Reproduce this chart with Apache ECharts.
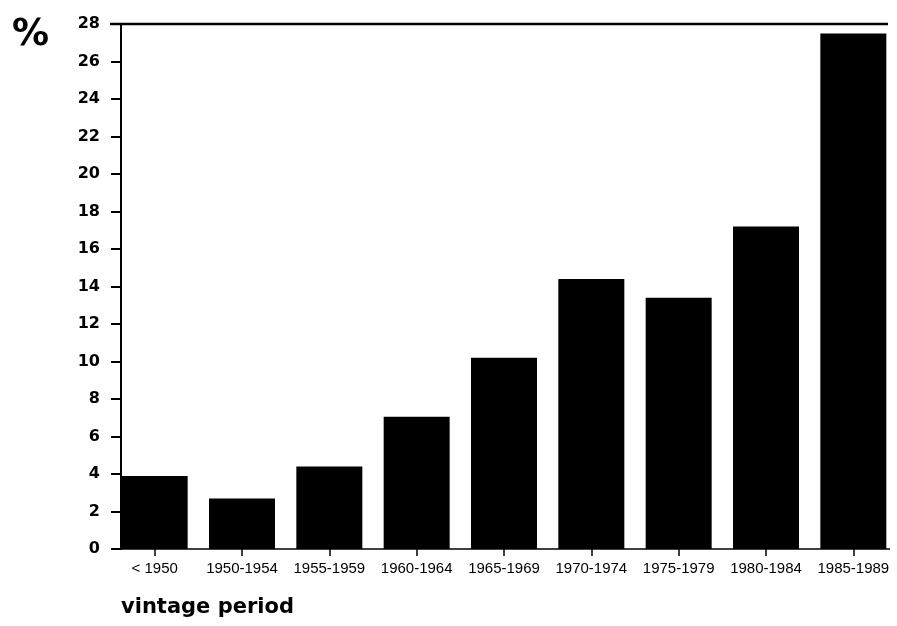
<!DOCTYPE html>
<html>
<head>
<meta charset="utf-8">
<script src="https://cdn.jsdelivr.net/npm/echarts@6/dist/echarts.min.js"></script>
<style>html,body{margin:0;padding:0;background:#fff}#c{width:897px;height:626px}</style>
</head>
<body>
<div id="c"></div>
<script>
var categories = ['< 1950','1950-1954','1955-1959','1960-1964','1965-1969','1970-1974','1975-1979','1980-1984','1985-1989'];
var values = [3.9, 2.7, 4.4, 7.05, 10.2, 14.4, 13.4, 17.2, 27.5];
var yTicks = [0,2,4,6,8,10,12,14,16,18,20,22,24,26,28];

var chart = echarts.init(document.getElementById('c'), null, {renderer:'canvas'});
var option = {
  animation: false,
  backgroundColor: '#fff',
  grid: {left: 111, right: -2, top: 24, bottom: 77, containLabel: false},
  xAxis: {
    type: 'category',
    data: categories,
    axisLine: {show: false},
    axisTick: {show: true, alignWithLabel: true, length: 7, lineStyle: {color: '#000', width: 1.5}},
    axisLabel: {color: '#000', fontFamily: 'Liberation Sans', fontSize: 15, margin: 12, interval: 0}
  },
  yAxis: {
    type: 'value',
    min: yTicks[0],
    max: yTicks[yTicks.length-1],
    interval: 2,
    offset: -10,
    axisLine: {show: true, lineStyle: {color: '#000', width: 2}},
    axisTick: {show: true, length: 10, lineStyle: {color: '#000', width: 2}},
    axisLabel: {color: '#000', fontFamily: 'DejaVu Sans', fontWeight: 'bold', fontSize: 16, margin: 21},
    splitLine: {show: false}
  },
  series: [{
    type: 'bar',
    data: values,
    barWidth: 66,
    itemStyle: {color: '#000'}
  }],
  graphic: [
    {type: 'line', shape: {x1: 110, y1: 24, x2: 888, y2: 24}, style: {stroke: '#000', lineWidth: 2.5}},
    {type: 'line', shape: {x1: 112, y1: 549, x2: 890, y2: 549}, style: {stroke: '#000', lineWidth: 1.5}},
    {type: 'text', left: 12, top: 17, style: {text: '%', fill: '#000', font: 'bold 37px "DejaVu Sans"'}},
    {type: 'text', left: 121, top: 597, style: {text: 'vintage period', fill: '#000', font: 'bold 21px "DejaVu Sans"'}}
  ]
};
chart.setOption(option);
</script>
</body>
</html>
